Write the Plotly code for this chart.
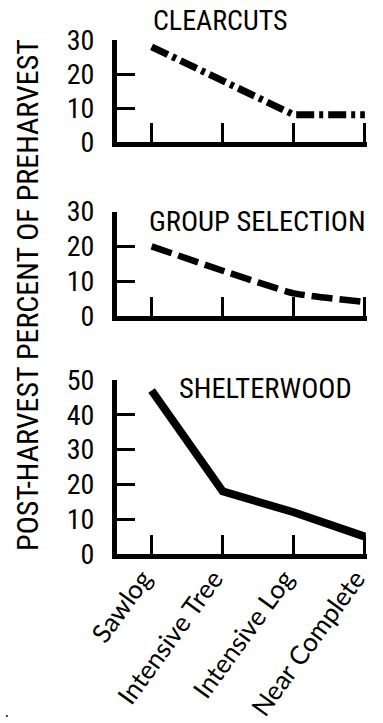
import plotly.graph_objects as go

# ---------------- data ----------------
categories = ["Sawlog", "Intensive Tree", "Intensive Log", "Near Complete"]
clearcuts = [28, 18, 8, 8]
group_selection = [20, 13, 6.5, 4]
shelterwood = [47, 18, 12, 5]
panel_titles = ["CLEARCUTS", "GROUP SELECTION", "SHELTERWOOD"]
y_ticks_small = [0, 10, 20, 30]
y_ticks_large = [0, 10, 20, 30, 40, 50]
y_title = "POST-HARVEST PERCENT OF PREHARVEST"

W, H = 383, 723


def px(x):
    return x / W


def py(y):
    return 1 - y / H


NARROW = "Roboto Condensed, DejaVu Sans Condensed, sans-serif"
CAT_FONT = "Lato, Open Sans, sans-serif"

fig = go.Figure()

fig.add_trace(go.Scatter(x=categories, y=clearcuts, mode="lines",
                         line=dict(color="black", width=7, dash="18px,5px,4px,5px"),
                         xaxis="x", yaxis="y", showlegend=False))
fig.add_trace(go.Scatter(x=categories, y=group_selection, mode="lines",
                         line=dict(color="black", width=6.5, dash="21px,7px", shape="spline", smoothing=0.4),
                         xaxis="x2", yaxis="y2", showlegend=False))
fig.add_trace(go.Scatter(x=categories, y=shelterwood, mode="lines",
                         line=dict(color="black", width=8),
                         xaxis="x3", yaxis="y3", showlegend=False))

x_common = dict(type="category", categoryorder="array", categoryarray=categories,
                range=[-0.487, 3.03], domain=[px(117), px(367)], automargin=False,
                showgrid=False, zeroline=False, showline=True, linecolor="black",
                linewidth=5, ticks="inside", ticklen=19, tickwidth=2.5, tickcolor="black",
                fixedrange=True)
y_common = dict(showgrid=False, zeroline=False, showline=True, linecolor="black",
                linewidth=5, ticks="inside", ticklen=18, tickwidth=2.5, tickcolor="black",
                tickfont=dict(family=NARROW, size=28, color="black"), automargin=False,
                ticklabelstandoff=12, fixedrange=True)

fig.update_layout(
    template="none",
    width=W, height=H, autosize=False,
    margin=dict(l=0, r=0, t=0, b=0, autoexpand=False),
    paper_bgcolor="white", plot_bgcolor="white",
    xaxis=dict(x_common, anchor="y", showticklabels=False),
    xaxis2=dict(x_common, anchor="y2", showticklabels=False),
    xaxis3=dict(x_common, anchor="y3", showticklabels=True, tickangle=-54,
                ticklabelstandoff=-6, ticklabelshift=-9,
                tickfont=dict(family=CAT_FONT, size=26, color="black")),
    yaxis=dict(y_common, anchor="x", range=[0, 30], tickvals=y_ticks_small,
               domain=[py(142), py(40)]),
    yaxis2=dict(y_common, anchor="x2", range=[0, 30], tickvals=y_ticks_small,
                domain=[py(316), py(211.5)]),
    yaxis3=dict(y_common, anchor="x3", range=[0, 50], tickvals=y_ticks_large,
                domain=[py(554), py(380)]),
)

title_pos = [(220, 20, 28), (257, 221, 28.5), (265, 388, 28.5)]
for t, (x, y, s) in zip(panel_titles, title_pos):
    fig.add_annotation(text=t, x=px(x), y=py(y), xref="paper", yref="paper",
                       xanchor="center", yanchor="middle", showarrow=False,
                       font=dict(family=NARROW, size=s, color="black"))

fig.add_annotation(text=y_title, x=px(27), y=py(295), xref="paper", yref="paper",
                   xanchor="center", yanchor="middle", textangle=-90, showarrow=False,
                   font=dict(family=NARROW, size=30, color="black"))

fig.add_annotation(text=".", x=px(7), y=py(710), xref="paper", yref="paper",
                   xanchor="center", yanchor="middle", showarrow=False,
                   font=dict(family=CAT_FONT, size=16, color="black"))

fig.write_html("out.html", config={"displayModeBar": False},
               post_script="document.body.style.margin='0';document.body.style.padding='0';")
